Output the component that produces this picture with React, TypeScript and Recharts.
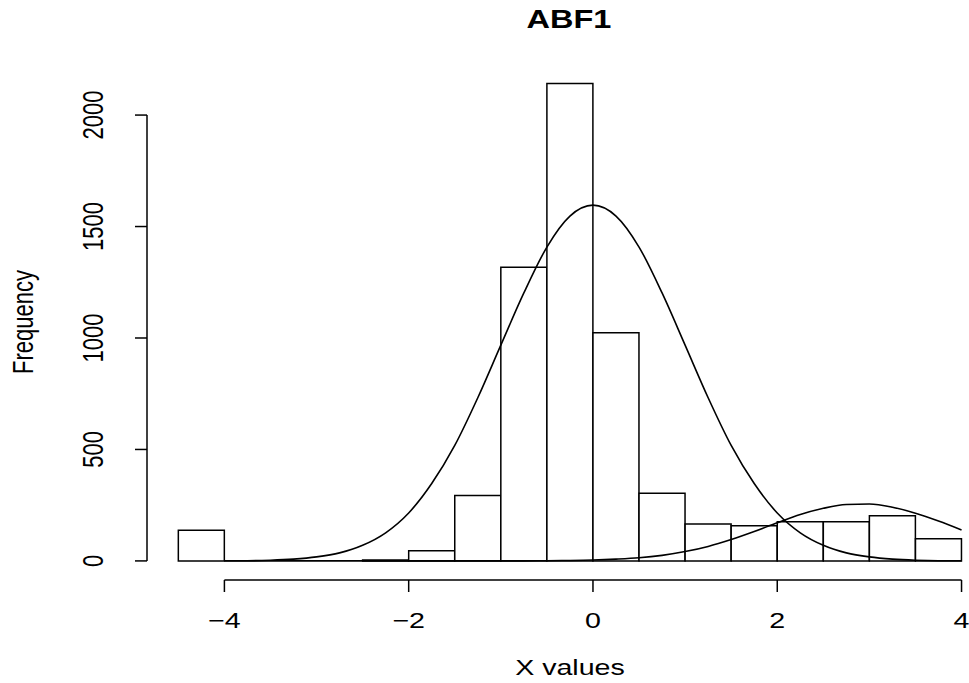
import React from 'react';
import { ComposedChart, Bar, Line, XAxis, YAxis, ReferenceLine, Label } from 'recharts';

// histogram bins (left edge, width 0.5) and counts
const binLeft = [-4.5, -4, -3.5, -3, -2.5, -2, -1.5, -1, -0.5, 0, 0.5, 1, 1.5, 2, 2.5, 3, 3.5];
const binCounts = [138, 0, 0, 0, 4, 46, 293, 1317, 2142, 1024, 304, 166, 158, 176, 176, 203, 100];

// the two overlaid curves, sampled every 0.25
const curveX = [
  -4, -3.75, -3.5, -3.25, -3, -2.75, -2.5, -2.25, -2, -1.75, -1.5, -1.25, -1, -0.75, -0.5, -0.25,
  0, 0.25, 0.5, 0.75, 1, 1.25, 1.5, 1.75, 2, 2.25, 2.5, 2.75, 3, 3.25, 3.5, 3.75, 4,
];
const fitMain = [
  1, 1, 3, 8, 18, 36, 70, 126, 215, 347, 518, 732, 968, 1202, 1408, 1547,
  1596, 1547, 1408, 1202, 968, 732, 518, 347, 215, 126, 70, 36, 18, 8, 3, 1, 1,
];
const fitTail = [
  0, 0, 0, 0, 0, 0, 0, 0, 0, 0, 0, 0, 0, 0, 1, 2,
  4, 8, 14, 25, 42, 65, 96, 132, 171, 208, 236, 253, 255, 241, 214, 179, 139,
];

const xTicks = [-4, -2, 0, 2, 4];
const yTicks = [0, 500, 1000, 1500, 2000];

const bars = binLeft.map((l, i) => ({ mid: l + 0.25, count: binCounts[i] }));
const mainCurve = curveX.map((x, i) => ({ x, y: fitMain[i] }));
const tailCurve = curveX.map((x, i) => ({ x, y: fitTail[i] }));

const X_DOMAIN: [number, number] = [-4.84, 4.081];
const Y_DOMAIN: [number, number] = [-85.6, 2224.6];
const FONT = '"Liberation Sans", Arial, Helvetica, sans-serif';
const SX = 1.3; // the original image is stretched horizontally

const Txt = ({ x, y, size = 22, bold = false, vertical = false, children }: any) => (
  <text
    transform={`translate(${x},${y}) scale(${SX},1)${vertical ? ' rotate(-90)' : ''}`}
    textAnchor="middle"
    fontFamily={FONT}
    fontSize={size}
    fontWeight={bold ? 'bold' : 'normal'}
    fill="#000"
  >
    {children}
  </text>
);

const fmt = (v: number) => (v < 0 ? '\u2212' + Math.abs(v) : String(v));

const XTick = (props: any) => <Txt x={props.x} y={628}>{fmt(props.payload.value)}</Txt>;
const YTick = (props: any) => <Txt x={103} y={props.y} vertical>{fmt(props.payload.value)}</Txt>;

export default function App() {
  return (
    <div style={{ position: 'absolute', left: 0, top: 0, width: 969, height: 683, background: '#fff' }}>
      <ComposedChart
        width={969}
        height={683}
        data={bars}
        margin={{ top: 65, right: 0, bottom: 73, left: 87 }}
        barCategoryGap={0}
        barGap={0}
      >
        <XAxis
          xAxisId="bins"
          dataKey="mid"
          type="number"
          domain={X_DOMAIN}
          allowDataOverflow
          ticks={xTicks}
          interval={0}
          height={30}
          tickSize={12}
          axisLine={false}
          stroke="#000"
          tickLine={{ stroke: '#000', strokeWidth: 1.5 }}
          tick={<XTick />}
        >
          <Label content={() => <Txt x={570} y={675}>X values</Txt>} />
        </XAxis>
        <XAxis xAxisId="fit" dataKey="x" type="number" domain={X_DOMAIN} allowDataOverflow hide />
        <YAxis
          type="number"
          domain={Y_DOMAIN}
          allowDataOverflow
          ticks={yTicks}
          interval={0}
          width={60}
          tickSize={12}
          axisLine={false}
          stroke="#000"
          tickLine={{ stroke: '#000', strokeWidth: 1.5 }}
          tick={<YTick />}
        >
          <Label content={() => <Txt x={33} y={322} vertical>Frequency</Txt>} />
        </YAxis>

        <ReferenceLine
          xAxisId="bins"
          segment={[{ x: xTicks[0], y: Y_DOMAIN[0] }, { x: xTicks[xTicks.length - 1], y: Y_DOMAIN[0] }]}
          stroke="#000"
          strokeWidth={1.5}
          ifOverflow="visible"
        />
        <ReferenceLine
          xAxisId="bins"
          segment={[{ x: X_DOMAIN[0], y: yTicks[0] }, { x: X_DOMAIN[0], y: yTicks[yTicks.length - 1] }]}
          stroke="#000"
          strokeWidth={1.5}
          ifOverflow="visible"
        />

        <Bar xAxisId="bins" dataKey="count" fill="#fff" stroke="#000" strokeWidth={1.5} isAnimationActive={false} />
        <Line xAxisId="fit" data={mainCurve} dataKey="y" type="monotone" dot={false} stroke="#000" strokeWidth={1.6} isAnimationActive={false} />
        <Line xAxisId="fit" data={tailCurve} dataKey="y" type="monotone" dot={false} stroke="#000" strokeWidth={1.6} isAnimationActive={false} />
      </ComposedChart>
      <svg width={969} height={683} style={{ position: 'absolute', left: 0, top: 0, pointerEvents: 'none' }}>
        <Txt x={569} y={28} size={25} bold>ABF1</Txt>
      </svg>
    </div>
  );
}
